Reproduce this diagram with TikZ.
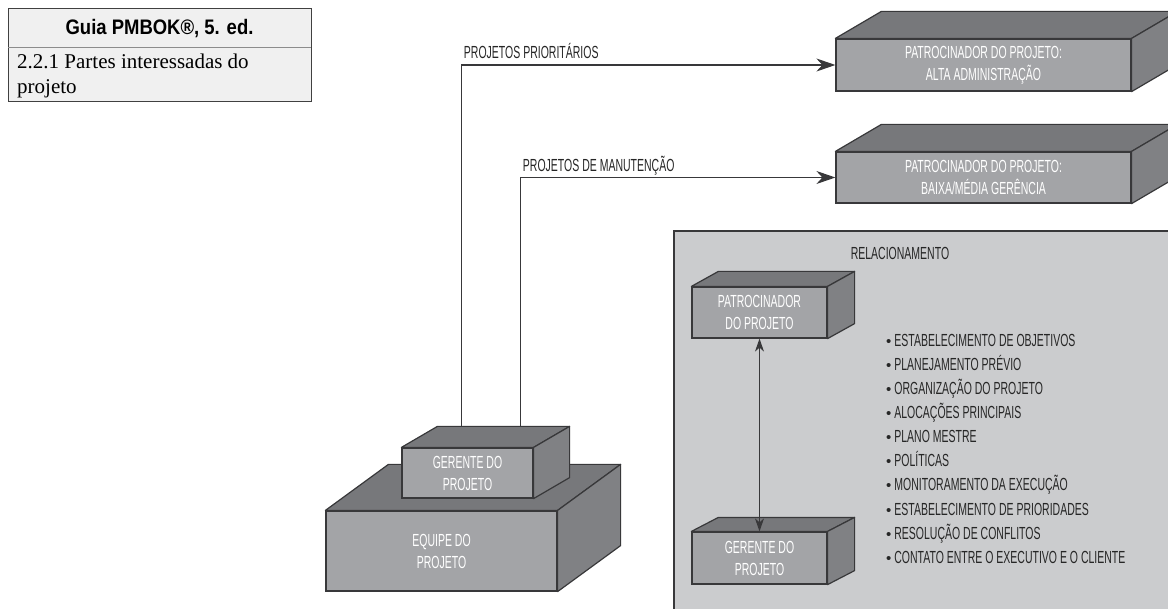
\documentclass[tikz,border=0pt]{standalone}
\usepackage{fontspec}
\setmainfont{Liberation Serif}
\newfontfamily\cond[FakeStretch=0.6]{Liberation Sans}
\newfontfamily\condtit[FakeStretch=0.88]{Liberation Sans}
\newfontfamily\plain{Liberation Sans}
\usetikzlibrary{arrows.meta}

\definecolor{frente}{HTML}{A3A4A7}
\definecolor{topo}{HTML}{77787B}
\definecolor{lado}{HTML}{808184}
\definecolor{contorno}{HTML}{38383A}
\definecolor{painel}{HTML}{CBCCCE}
\definecolor{guiafundo}{HTML}{F0F0F0}

\tikzset{
  caixa/.style={draw=contorno, fill=frente, line width=1.2pt, text=white,
    font=\cond\fontsize{17.5}{22}\selectfont, align=center, inner sep=0pt},
  face/.style={draw=contorno, line width=1.2pt, line join=round},
  fluxo/.style={draw=contorno, line width=1.1pt, -{Stealth[length=19pt,width=13pt,inset=6pt]}},
  duplo/.style={draw=contorno, line width=1.1pt, {Stealth[length=13pt,width=9pt,inset=4pt]}-{Stealth[length=13pt,width=9pt,inset=4pt]}},
  rotulo/.style={font=\cond\fontsize{17.5}{20}\selectfont, inner sep=0pt, text=black!85},
}

% faces de cima e do lado de um bloco: #1 no, #2 dx, #3 dy
\newcommand{\bloco}[3]{%
  \draw[face, fill=topo] (#1.north west) -- ++(#2,#3) -- ([shift={(#2,#3)}]#1.north east) -- (#1.north east) -- cycle;
  \draw[face, fill=lado] (#1.north east) -- ++(#2,#3) -- ([shift={(#2,#3)}]#1.south east) -- (#1.south east) -- cycle;
  \coordinate (#1-tl) at ([shift={(#2,#3)}]#1.north west);
}

\begin{document}
\begin{tikzpicture}[x=1pt,y=-1pt]
  \useasboundingbox (0,0) rectangle (1168,609);

  % quadro do guia
  \node[draw=black!75, fill=guiafundo, line width=1pt, minimum width=303pt, minimum height=93pt, inner sep=0pt] (guia) at (159.5,55.5) {};
  \draw[black!45, line width=0.8pt] (8,47) -- (311,47);
  \node[font=\condtit\bfseries\fontsize{21}{22}\selectfont, inner sep=0pt] (guiatit) at (159.5,29) {Guia PMBOK®, 5. ed.};
  \node[font=\fontsize{21}{25}\selectfont, align=left, anchor=north west, inner sep=0pt] (guiatxt) at (17,54)
    {2.2.1 Partes interessadas do\\projeto};

  % patrocinadores
  \node[caixa, minimum width=295pt, minimum height=52pt] (alta) at (983.5,65)
    {PATROCINADOR DO PROJETO:\\ALTA ADMINISTRAÇÃO};
  \bloco{alta}{46}{-27}
  \node[caixa, minimum width=295pt, minimum height=51pt] (baixa) at (983.5,177.5)
    {PATROCINADOR DO PROJETO:\\BAIXA/MÉDIA GERÊNCIA};
  \bloco{baixa}{46}{-27}

  % relacionamento
  \draw[draw=contorno, fill=painel, line width=1.1pt] (674,231) rectangle (1200,640);
  \node[rotulo] (rel) at (900,253.5) {RELACIONAMENTO};
  \node[caixa, minimum width=135pt, minimum height=51pt] (patI) at (759.5,312.5)
    {PATROCINADOR\\DO PROJETO};
  \bloco{patI}{27}{-15}
  \node[caixa, minimum width=135pt, minimum height=52pt] (gerI) at (759.5,558)
    {GERENTE DO\\PROJETO};
  \bloco{gerI}{27}{-14}
  \draw[duplo] (patI) -- (gerI);
  \foreach \t [count=\i from 0] in {ESTABELECIMENTO DE OBJETIVOS, PLANEJAMENTO PRÉVIO,
      ORGANIZAÇÃO DO PROJETO, ALOCAÇÕES PRINCIPAIS, PLANO MESTRE, POLÍTICAS,
      MONITORAMENTO DA EXECUÇÃO, ESTABELECIMENTO DE PRIORIDADES,
      RESOLUÇÃO DE CONFLITOS, CONTATO ENTRE O EXECUTIVO E O CLIENTE}
    \node[rotulo, anchor=base west] (item\i) at (886,347+24*\i) {{\plain\fontsize{15}{15}\selectfont •}\,\t};

  % equipe e gerente
  \node[caixa, minimum width=231pt, minimum height=80pt] (equipe) at (441.5,551)
    {EQUIPE DO\\PROJETO};
  \bloco{equipe}{63}{-46}
  \node[caixa, minimum width=131pt, minimum height=50pt] (gerL) at (467.5,473)
    {GERENTE DO\\PROJETO};
  \bloco{gerL}{36}{-21}

  % linhas
  \draw[fluxo] ([xshift=24pt]gerL-tl) |- (alta.west)
    node[pos=0.5, rotulo, anchor=base west, xshift=2pt, yshift=6pt] (lpri) {PROJETOS PRIORITÁRIOS};
  \draw[fluxo] ([xshift=83pt]gerL-tl) |- (baixa.west)
    node[pos=0.5, rotulo, anchor=base west, xshift=2pt, yshift=6pt] (lman) {PROJETOS DE MANUTENÇÃO};
\end{tikzpicture}
\end{document}
